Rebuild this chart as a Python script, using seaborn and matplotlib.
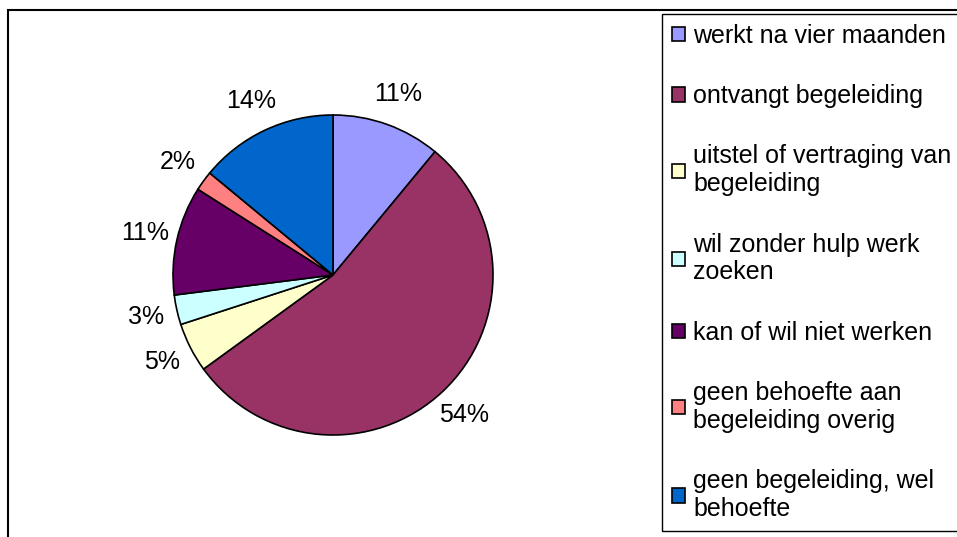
import matplotlib
matplotlib.use("Agg")
import matplotlib.pyplot as plt
import seaborn as sns
from matplotlib.patches import Rectangle

categories = [
    "werkt na vier maanden",
    "ontvangt begeleiding",
    "uitstel of vertraging van\nbegeleiding",
    "wil zonder hulp werk\nzoeken",
    "kan of wil niet werken",
    "geen behoefte aan\nbegeleiding overig",
    "geen begeleiding, wel\nbehoefte",
]
shares = [11, 54, 5, 3, 11, 2, 14]
colors = ["#9999FF", "#993366", "#FFFFCC", "#CCFFFF", "#660066", "#FF8080", "#0066CC"]

sns.set_theme(style="white")
plt.rcParams["font.family"] = ["Liberation Sans", "DejaVu Sans"]
plt.rcParams["text.color"] = "black"

W, H = 957, 537
fig = plt.figure(figsize=(W / 100, H / 100), dpi=100)
fig.patch.set_facecolor("white")

# outer chart frame (only top and left edges visible in the crop)
fig.patches.append(Rectangle((8 / W, -0.1), 1.2, 1 - 10 / H + 0.1, transform=fig.transFigure,
                             fill=False, edgecolor="black", lw=1.5, clip_on=False))

cx, cy, r = 333, 275, 160
ax = fig.add_axes([(cx - r) / W, (H - cy - r) / H, 2 * r / W, 2 * r / H])
wedges, texts, autotexts = ax.pie(
    shares, colors=colors, startangle=90, counterclock=False,
    autopct=lambda p: f"{p:.0f}%", pctdistance=1.2,
    wedgeprops=dict(edgecolor="black", linewidth=1.2),
    textprops=dict(fontsize=18, color="black"),
)
ax.set_xlim(-1, 1)
ax.set_ylim(-1, 1)
ax.set_aspect("equal")
ax.axis("off")

leg = fig.legend(
    wedges, categories, loc="upper left",
    bbox_to_anchor=(662 / W, 1 - 14 / H), bbox_transform=fig.transFigure,
    borderaxespad=0, frameon=True, fancybox=False, framealpha=1,
    edgecolor="black", fontsize=18, labelspacing=1.45, borderpad=0.4,
    handlelength=0.5, handleheight=0.5, handletextpad=0.35,
    labelcolor="black",
)
leg.get_frame().set_linewidth(1.0)

fig.savefig("out.png", dpi=100, facecolor="white")
